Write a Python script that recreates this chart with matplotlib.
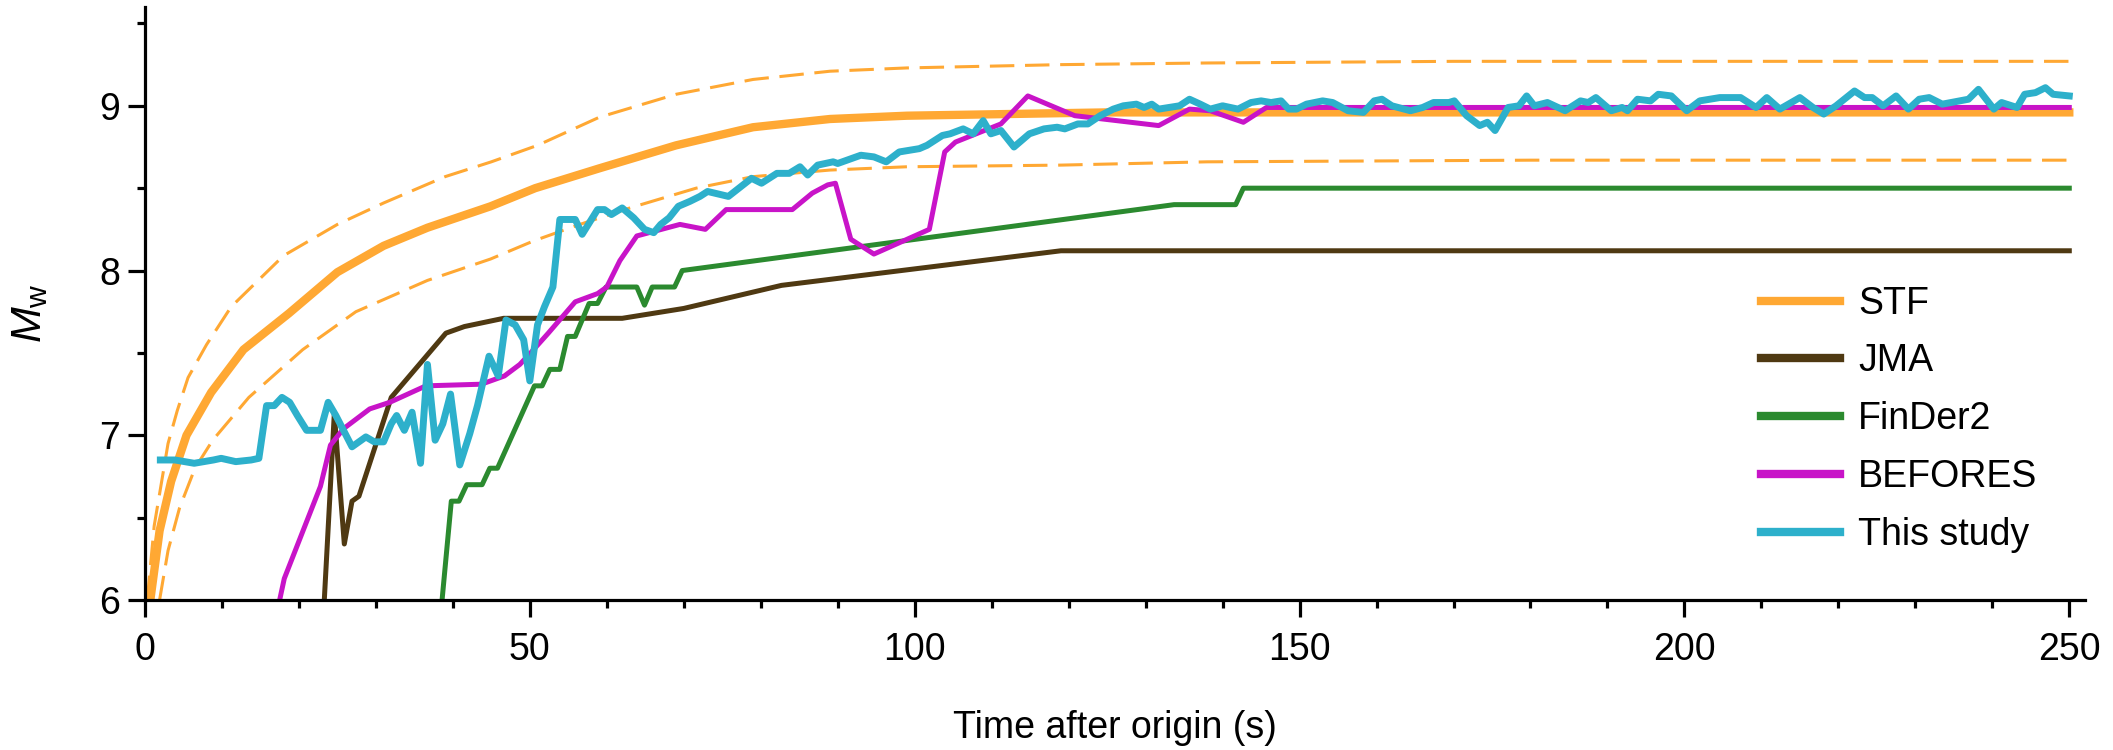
import matplotlib
matplotlib.use("Agg")
import matplotlib.pyplot as plt

plt.rcParams['font.family'] = ['Liberation Sans', 'DejaVu Sans']
plt.rcParams['mathtext.fontset'] = 'custom'
plt.rcParams['mathtext.rm'] = 'Liberation Sans'
plt.rcParams['mathtext.it'] = 'Liberation Sans:italic'

# STF with its upper / lower bounds
stf_t = [0.7, 1.9, 3.4, 5.4, 8.6, 12.8, 18.7, 25, 31, 36.7, 44.9, 50.7, 59, 69, 79,
         89, 99, 112, 125, 150, 200, 250]
stf_m = [6.0, 6.42, 6.72, 7.0, 7.26, 7.52, 7.74, 7.99, 8.15, 8.26, 8.39, 8.5, 8.62,
         8.76, 8.87, 8.92, 8.94, 8.95, 8.96, 8.96, 8.96, 8.96]

upper_t = [0.3, 1.2, 2.1, 3.0, 4.2, 5.6, 8, 11.2, 18, 25, 31, 39, 45, 51, 59, 69, 79,
           89, 99, 119, 138, 170, 250]
upper_m = [6.0, 6.45, 6.7, 6.95, 7.15, 7.35, 7.55, 7.78, 8.09, 8.28, 8.41, 8.57, 8.66,
           8.76, 8.93, 9.07, 9.16, 9.21, 9.23, 9.25, 9.26, 9.27, 9.27]

lower_t = [1.9, 3.0, 4.5, 6.5, 8.8, 13.5, 20.5, 27.4, 36.7, 44.9, 50.5, 56.5, 63, 71.6,
           79, 89, 99, 119, 138, 180, 250]
lower_m = [6.0, 6.3, 6.56, 6.8, 6.97, 7.23, 7.52, 7.75, 7.94, 8.07, 8.18, 8.28, 8.38,
           8.5, 8.57, 8.61, 8.63, 8.64, 8.66, 8.67, 8.67]

# JMA
jma_t = [23.3, 24.6, 25.9, 26.9, 27.8, 32, 39.1, 41.5, 46.6, 62, 70, 82.7, 119, 250]
jma_m = [6.0, 7.13, 6.34, 6.6, 6.63, 7.23, 7.62, 7.66, 7.71, 7.71, 7.77, 7.91, 8.12, 8.12]

# FinDer2
finder_t = [38.6, 39.8, 40.8, 41.8, 43.8, 44.8, 45.8, 50.6, 51.6, 52.6, 53.9, 54.9, 55.9,
            57.7, 58.8, 59.9, 63.9, 64.9, 65.9, 68.8, 69.8, 133.7, 141.7, 142.7, 250]
finder_m = [6.0, 6.6, 6.6, 6.7, 6.7, 6.8, 6.8, 7.3, 7.3, 7.4, 7.4, 7.6, 7.6,
            7.8, 7.8, 7.9, 7.9, 7.79, 7.9, 7.9, 8.0, 8.4, 8.4, 8.5, 8.5]

# BEFORES
befores_t = [17.5, 18.1, 22.8, 24.1, 25.8, 27.5, 29.2, 31.8, 36.5, 43.7, 46.7, 48.7,
             50.1, 52.4, 55.9, 58.8, 60, 61.7, 63.9, 65.5, 69.5, 72.8, 75.5, 78.8, 84.1,
             86.7, 88.7, 89.7, 91.7, 94.7, 101.9, 103.9, 105.3, 111.2, 114.7, 120.8,
             131.7, 135.7, 138.4, 142.7, 145.7, 163, 250]
befores_m = [6.0, 6.13, 6.69, 6.94, 7.04, 7.1, 7.16, 7.2, 7.3, 7.31, 7.36, 7.43,
             7.5, 7.62, 7.81, 7.86, 7.9, 8.06, 8.21, 8.23, 8.28, 8.25, 8.37, 8.37, 8.37,
             8.47, 8.52, 8.53, 8.19, 8.1, 8.25, 8.72, 8.78, 8.89, 9.06, 8.94,
             8.88, 8.98, 8.97, 8.9, 8.99, 8.99, 8.99]

# This study (read in three stretches)
study_t1 = [2.0, 3.9, 6.4, 8.9, 9.9, 11.8, 13.8, 14.8, 15.8, 16.8,
            17.8, 18.8, 19.8, 21.0, 22.8, 23.8, 24.8, 25.8, 26.9, 27.8,
            28.7, 29.8, 31.0, 32.0, 32.7, 33.7, 34.7, 35.8, 36.7, 37.7,
            38.7, 39.7, 40.9, 42.2, 43.2, 44.7, 45.9, 46.9, 48.1, 49.2,
            50.0, 51.0, 51.9, 53.0, 53.9, 55.9, 56.8, 58.8, 59.7, 60.6,
            62.0, 63.5, 64.9, 66.1, 67.0, 68.1, 69.3, 70.8, 72.1]
study_m1 = [6.85, 6.85, 6.83, 6.85, 6.86, 6.84, 6.85, 6.86, 7.18, 7.18,
            7.23, 7.2, 7.12, 7.03, 7.03, 7.2, 7.12, 7.03, 6.93, 6.96,
            6.99, 6.96, 6.96, 7.07, 7.12, 7.03, 7.14, 6.83, 7.43, 6.97,
            7.07, 7.25, 6.82, 7.01, 7.18, 7.48, 7.36, 7.7, 7.67, 7.58,
            7.33, 7.67, 7.78, 7.9, 8.31, 8.31, 8.22, 8.37, 8.37, 8.34,
            8.38, 8.32, 8.25, 8.23, 8.28, 8.32, 8.39, 8.42, 8.45]
study_t2 = [73.1, 75.8, 78.8, 80.1, 82.1, 83.7, 85.1, 86.1, 87.4, 89.4,
            90.0, 93.0, 94.7, 96.3, 98.0, 100.6, 101.6, 103.6, 104.6, 106.3,
            107.6, 108.9, 109.9, 111.2, 112.9, 114.9, 116.8, 118.5, 119.5, 121.2,
            122.5, 124.1, 125.8, 127.1, 128.8, 129.8, 130.8, 131.7, 134.4, 135.7,
            137.1, 138.4, 140.0, 142.0, 143.7, 145.0, 146.3, 147.6, 148.6]
study_m2 = [8.48, 8.45, 8.56, 8.53, 8.59, 8.59, 8.63, 8.58, 8.64, 8.66,
            8.65, 8.7, 8.69, 8.66, 8.72, 8.74, 8.76, 8.82, 8.83, 8.86,
            8.83, 8.91, 8.83, 8.85, 8.75, 8.83, 8.86, 8.87, 8.86, 8.89,
            8.89, 8.94, 8.98, 9.0, 9.01, 8.99, 9.01, 8.98, 9.0, 9.04,
            9.01, 8.98, 9.0, 8.98, 9.02, 9.03, 9.02, 9.03, 8.98]
study_t3 = [149.6, 150.9, 153.0, 154.3, 156.3, 158.3, 159.7, 160.7, 162.0, 164.4,
            166.0, 167.4, 169.4, 170.1, 171.7, 173.4, 174.4, 175.4, 177.1, 178.5,
            179.5, 180.5, 182.2, 184.5, 186.5, 187.5, 188.5, 190.5, 191.9, 192.6,
            193.9, 195.6, 196.6, 198.3, 200.3, 202.0, 204.6, 207.3, 209.3, 210.7,
            212.4, 215.0, 216.7, 218.1, 219.7, 222.1, 223.4, 224.4, 225.8, 227.5,
            229.1, 230.5, 231.8, 233.5, 236.9, 238.2, 240.2, 241.2, 243.2, 244.2,
            245.6, 246.9, 247.9, 250.0]
study_m3 = [8.98, 9.01, 9.03, 9.02, 8.97, 8.96, 9.03, 9.04, 9.0, 8.97,
            8.99, 9.02, 9.02, 9.03, 8.94, 8.88, 8.9, 8.85, 8.99, 9.0,
            9.06, 9.0, 9.02, 8.97, 9.03, 9.02, 9.05, 8.97, 8.99, 8.97,
            9.04, 9.03, 9.07, 9.06, 8.97, 9.03, 9.05, 9.05, 8.99, 9.05,
            8.98, 9.05, 8.99, 8.95, 9.0, 9.09, 9.05, 9.05, 9.0, 9.06,
            8.98, 9.04, 9.05, 9.01, 9.04, 9.1, 8.98, 9.02, 8.99, 9.07,
            9.08, 9.11, 9.07, 9.06]
study_t = study_t1 + study_t2 + study_t3
study_m = study_m1 + study_m2 + study_m3

c_stf = '#FFA833'
c_jma = '#4F3912'
c_finder = '#2B8A2F'
c_befores = '#C814C8'
c_study = '#2DB0CB'

fig = plt.figure(figsize=(21.13, 7.5), dpi=100)
ax = fig.add_axes([0.0686, 0.2, 0.918, 0.7907])

ax.plot(upper_t, upper_m, color=c_stf, lw=2.2, dashes=(8, 3.5))
ax.plot(lower_t, lower_m, color=c_stf, lw=2.2, dashes=(8, 3.5))
ax.plot(stf_t, stf_m, color=c_stf, lw=6, label='STF')
ax.plot(jma_t, jma_m, color=c_jma, lw=3.6, label='JMA')
ax.plot(finder_t, finder_m, color=c_finder, lw=3.6, label='FinDer2')
ax.plot(befores_t, befores_m, color=c_befores, lw=3.6, label='BEFORES')
ax.plot(study_t, study_m, color=c_study, lw=5, label='This study')

ax.set_xlim(0, 252)
ax.set_ylim(6, 9.6)
ax.set_xticks([0, 50, 100, 150, 200, 250])
ax.set_xticks(range(0, 251, 10), minor=True)
ax.set_yticks([6, 7, 8, 9])
ax.set_yticks([6.5, 7.5, 8.5, 9.5], minor=True)

for s in ['top', 'right']:
    ax.spines[s].set_visible(False)
for s in ['left', 'bottom']:
    ax.spines[s].set_linewidth(2.3)

ax.tick_params(axis='both', which='major', length=12, width=2.3, labelsize=27)
ax.tick_params(axis='both', which='minor', length=6, width=2.3)
ax.tick_params(axis='x', which='major', pad=11)
ax.tick_params(axis='y', which='major', pad=6)

ax.set_xlabel('Time after origin (s)', fontsize=27, va='center')
ax.xaxis.set_label_coords(0.5, -0.216)
ax.set_ylabel(r'$M_{\mathrm{w}}$', fontsize=31, va='center')
ax.yaxis.set_label_coords(-0.059, 0.484)

leg = ax.legend(loc='center left', bbox_to_anchor=(0.833, 0.305), frameon=False,
                borderpad=0, borderaxespad=0, handlelength=2.1, handletextpad=0.5,
                labelspacing=0.58, prop={'size': 27})
for line in leg.get_lines():
    line.set_linewidth(6)

fig.savefig('out.png', dpi=100)
